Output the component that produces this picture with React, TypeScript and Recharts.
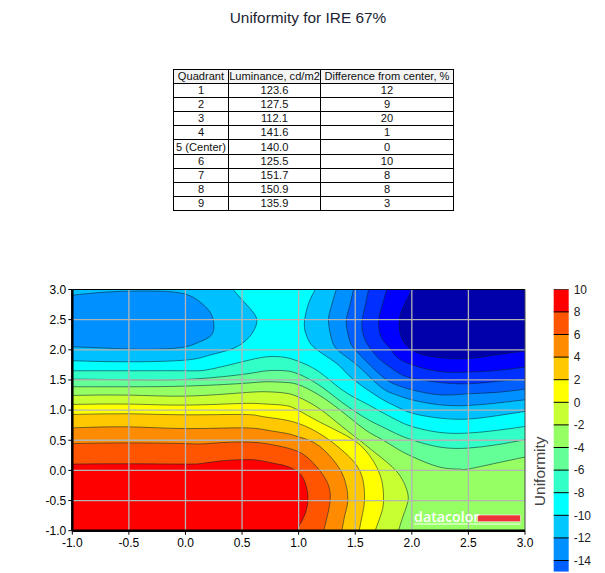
import { Area, AreaChart, Label, ReferenceArea, ReferenceLine, XAxis, YAxis } from 'recharts'

type Pt = [number, number]

const titleText = 'Uniformity for IRE 67%'
const tableHeaders = ['Quadrant', 'Luminance, cd/m2', 'Difference from center, %']
const quadrants = ['1', '2', '3', '4', '5 (Center)', '6', '7', '8', '9']
const luminance = ['123.6', '127.5', '112.1', '141.6', '140.0', '125.5', '151.7', '150.9', '135.9']
const differences = ['12', '9', '20', '1', '0', '10', '8', '8', '3']

const axisTicks = [-1, -0.5, 0, 0.5, 1, 1.5, 2, 2.5, 3]
const scaleTicks = [10, 8, 6, 4, 2, 0, -2, -4, -6, -8, -10, -12, -14]
const scaleColors = ['#ff0000', '#ff5500', '#ff8c00', '#ffc800', '#ffff00', '#c8ff32', '#96ff64', '#64ff96', '#32ffc8', '#00ffff', '#00c8ff', '#0090ff', '#0060ff']

// contour outlines, [x, y]
const warmM2: Pt[] = [[-1, 1.243], [-0.5, 1.249], [0, 1.232], [0.5, 1.287], [0.715, 1.304], [0.882, 1.282], [1, 1.215], [1.176, 1.033], [1.382, 0.73], [1.559, 0.47], [1.691, 0.27], [1.868, -0.022], [1.956, -0.326], [1.965, -0.519], [1.926, -0.74], [1.882, -1]]
const warm0: Pt[] = [[-1, 1.094], [-0.5, 1.1], [0, 1.083], [0.5, 1.11], [0.715, 1.1], [0.882, 1.077], [1, 0.994], [1.176, 0.812], [1.412, 0.586], [1.588, 0.337], [1.72, -0.077], [1.75, -0.464], [1.735, -0.685], [1.676, -1]]
const warm2: Pt[] = [[-1, 0.928], [-0.5, 0.939], [0, 0.922], [0.5, 0.928], [0.66, 0.9], [0.8, 0.861], [1, 0.778], [1.206, 0.586], [1.382, 0.337], [1.544, -0.022], [1.582, -0.464], [1.565, -0.713], [1.535, -1]]
const warm4: Pt[] = [[-1, 0.705], [-0.5, 0.722], [0, 0.694], [0.5, 0.706], [0.72, 0.667], [0.9, 0.611], [1, 0.556], [1.147, 0.45], [1.294, 0.2], [1.397, -0.105], [1.435, -0.464], [1.412, -0.713], [1.382, -1]]
const warm6: Pt[] = [[-1, 0.444], [-0.5, 0.456], [0, 0.444], [0.156, 0.44], [0.33, 0.461], [0.5, 0.472], [0.66, 0.456], [0.81, 0.41], [1, 0.309], [1.132, 0.116], [1.235, -0.133], [1.279, -0.381], [1.265, -0.657], [1.221, -1]]
const warm8: Pt[] = [[-1, 0.105], [-0.5, 0.11], [0, 0.105], [0.16, 0.12], [0.33, 0.16], [0.5, 0.178], [0.65, 0.166], [0.8, 0.11], [0.882, 0.077], [1, -0.033], [1.059, -0.215], [1.082, -0.436], [1.059, -0.713], [1, -0.934], [0.994, -1]]

const cool4: Pt[] = [[-1, 1.387], [-0.5, 1.387], [0, 1.398], [0.5, 1.442], [0.72, 1.47], [0.882, 1.459], [1, 1.42], [1.176, 1.254], [1.382, 0.978], [1.588, 0.674], [1.72, 0.53], [1.861, 0.37], [2, 0.232], [2.246, 0.055], [2.423, 0.022], [2.497, 0.022], [2.749, 0.122], [3, 0.221]]
const cool6: Pt[] = [[-1, 1.514], [-0.5, 1.503], [0, 1.508], [0.5, 1.591], [0.72, 1.652], [0.882, 1.652], [1, 1.597], [1.176, 1.42], [1.382, 1.13], [1.588, 0.87], [1.72, 0.74], [1.861, 0.61], [2, 0.508], [2.246, 0.387], [2.497, 0.37], [2.749, 0.425], [3, 0.508]]
const cool8: Pt[] = [[-1, 1.652], [-0.5, 1.652], [0, 1.652], [0.21, 1.674], [0.5, 1.801], [0.72, 1.884], [0.882, 1.873], [1, 1.807], [1.176, 1.641], [1.382, 1.337], [1.588, 1.116], [1.72, 0.98], [1.861, 0.84], [2, 0.729], [2.246, 0.63], [2.497, 0.619], [2.749, 0.663], [3, 0.729]]
const cool10Left: Pt[] = [[-1, 1.818], [-0.5, 1.801], [0, 1.829], [0.215, 1.912], [0.42, 2.022], [0.565, 2.215], [0.63, 2.448], [0.595, 2.63], [0.49, 2.851], [0.42, 3]]
const cool12Left: Pt[] = [[-1, 2.906], [-0.756, 2.95], [-0.506, 2.972], [-0.226, 2.972], [0, 2.923], [0.126, 2.796], [0.215, 2.63], [0.25, 2.436], [0.229, 2.243], [0.126, 2.133], [0, 2.05], [-0.226, 2.011], [-0.506, 2.011], [-0.756, 2.033], [-1, 2.05]]
const cool10Right: Pt[] = [[1.147, 3], [1.088, 2.768], [1.05, 2.436], [1.074, 2.215], [1.147, 2.022], [1.338, 1.77], [1.47, 1.53], [1.72, 1.2], [1.861, 1.061], [2, 0.95], [2.246, 0.867], [2.497, 0.851], [2.749, 0.906], [3, 0.978]]
const cool12Right: Pt[] = [[1.332, 3], [1.279, 2.657], [1.265, 2.436], [1.294, 2.16], [1.36, 1.97], [1.53, 1.724], [1.72, 1.39], [1.861, 1.254], [2, 1.171], [2.246, 1.088], [2.497, 1.077], [2.749, 1.116], [3, 1.171]]
const cool14: Pt[] = [[1.485, 3], [1.441, 2.657], [1.42, 2.436], [1.45, 2.16], [1.515, 1.97], [1.72, 1.586], [1.861, 1.42], [2, 1.337], [2.246, 1.254], [2.497, 1.27], [2.749, 1.293], [3, 1.348]]
const cool16: Pt[] = [[1.618, 3], [1.579, 2.657], [1.559, 2.436], [1.588, 2.16], [1.676, 1.92], [1.72, 1.834], [1.861, 1.641], [2, 1.53], [2.246, 1.459], [2.497, 1.436], [2.749, 1.475], [3, 1.514]]
const cool18: Pt[] = [[1.779, 3], [1.726, 2.657], [1.706, 2.436], [1.735, 2.188], [1.809, 2.022], [1.861, 1.89], [2, 1.751], [2.246, 1.641], [2.497, 1.63], [2.749, 1.657], [3, 1.713]]
const cool20: Pt[] = [[2, 3], [1.912, 2.657], [1.888, 2.436], [1.912, 2.188], [2, 2], [2.1, 1.917], [2.25, 1.87], [2.5, 1.855], [2.75, 1.917], [3, 1.98]]

const backdrop: Pt[] = [[-1, 3], [3, 3]]

// painted back to front
const layers: { pts: Pt[]; color: string; base: number; line?: boolean }[] = [
  { pts: backdrop, color: '#96ff64', base: -1, line: false },
  { pts: warmM2, color: '#c8ff32', base: -1 },
  { pts: warm0, color: '#ffff00', base: -1 },
  { pts: warm2, color: '#ffc800', base: -1 },
  { pts: warm4, color: '#ff8c00', base: -1 },
  { pts: warm6, color: '#ff5500', base: -1 },
  { pts: warm8, color: '#ff0000', base: -1 },
  { pts: cool4, color: '#64ff96', base: 3 },
  { pts: cool6, color: '#32ffc8', base: 3 },
  { pts: cool8, color: '#00ffff', base: 3 },
  { pts: cool10Left, color: '#00c0ff', base: 3 },
  { pts: cool12Left, color: '#0090ff', base: 3 },
  { pts: cool10Right, color: '#00c0ff', base: 3 },
  { pts: cool12Right, color: '#0090ff', base: 3 },
  { pts: cool14, color: '#0060ff', base: 3 },
  { pts: cool16, color: '#0030ff', base: 3 },
  { pts: cool18, color: '#0000ff', base: 3 },
  { pts: cool20, color: '#0000aa', base: 3 },
]

const toRows = (pts: Pt[]) => pts.map(([x, y]) => ({ x, y }))
const font = 'Arial, "Liberation Sans", sans-serif'

function UniformityTable() {
  const cell = { border: '1px solid #000', padding: 0, height: 13.1, lineHeight: '13px', textAlign: 'center' as const, whiteSpace: 'nowrap' as const, overflow: 'hidden' }
  return (
    <table
      style={{
        position: 'absolute',
        left: 173,
        top: 69,
        width: 280,
        borderCollapse: 'collapse',
        tableLayout: 'fixed',
        fontFamily: font,
        fontSize: 11.1,
        color: '#111',
      }}
    >
      <colgroup>
        <col style={{ width: 55 }} />
        <col style={{ width: 92 }} />
        <col style={{ width: 133 }} />
      </colgroup>
      <thead>
        <tr style={{ background: '#f4f4f4' }}>
          {tableHeaders.map((h) => (
            <th key={h} style={{ ...cell, fontWeight: 400 }}>{h}</th>
          ))}
        </tr>
      </thead>
      <tbody>
        {quadrants.map((q, i) => (
          <tr key={q}>
            <td style={cell}>{q}</td>
            <td style={cell}>{luminance[i]}</td>
            <td style={cell}>{differences[i]}</td>
          </tr>
        ))}
      </tbody>
    </table>
  )
}

function ContourChart() {
  return (
    <div style={{ position: 'absolute', left: 0, top: 270 }}>
      <AreaChart width={545} height={290} margin={{ top: 19.5, right: 20, bottom: 0, left: 0 }}>
        <XAxis
          dataKey="x"
          type="number"
          domain={[-1, 3]}
          ticks={axisTicks}
          interval={0}
          allowDataOverflow
          height={29.3}
          tickSize={4}
          tickMargin={4}
          tickLine={{ stroke: '#000' }}
          axisLine={{ stroke: '#000', strokeWidth: 2.5 }}
          tick={{ fontSize: 12, fill: '#000', fontFamily: font }}
          tickFormatter={(v: number) => v.toFixed(1)}
        />
        <YAxis
          dataKey="y"
          type="number"
          domain={[-1, 3]}
          ticks={axisTicks}
          interval={0}
          allowDataOverflow
          width={72.3}
          tickSize={4}
          tickLine={{ stroke: '#000' }}
          axisLine={{ stroke: '#000', strokeWidth: 2.5 }}
          tick={{ fontSize: 12, fill: '#000', fontFamily: font }}
          tickFormatter={(v: number) => v.toFixed(1)}
        />
        {layers.map((l, i) => (
          <Area
            key={i}
            data={toRows(l.pts)}
            dataKey="y"
            type="natural"
            baseValue={l.base}
            fill={l.color}
            fillOpacity={1}
            stroke={l.line === false ? 'none' : '#0a2030'}
            strokeOpacity={0.55}
            strokeWidth={1}
            dot={false}
            activeDot={false}
            isAnimationActive={false}
          />
        ))}
        {axisTicks.slice(1, -1).map((t) => (
          <ReferenceLine key={`v${t}`} x={t} stroke="#b4b4b4" strokeWidth={1.3} />
        ))}
        {axisTicks.slice(1, -1).map((t) => (
          <ReferenceLine key={`h${t}`} y={t} stroke="#b4b4b4" strokeWidth={1.3} />
        ))}
        <ReferenceLine y={3} stroke="#000" strokeWidth={1} />
        <ReferenceLine x={3} stroke="#444" strokeWidth={1} />
        <ReferenceArea x1={2.018} x2={2.961} y1={-0.897} y2={-0.881} fill="#ffffff" fillOpacity={1} strokeOpacity={0} />
        <ReferenceArea x1={2.58} x2={2.961} y1={-0.85} y2={-0.74} fill="#ee3338" fillOpacity={1} stroke="#ffffff" strokeOpacity={0.6} />
        <ReferenceArea x1={2.035} x2={2.583} y1={-0.87} y2={-0.67} fillOpacity={0} strokeOpacity={0}>
          <Label value="datacolor" position="center" fill="#ffffff" fontSize={14.2} fontWeight={600} fontFamily='"Open Sans", sans-serif' />
        </ReferenceArea>
      </AreaChart>
    </div>
  )
}

function ColorScale() {
  return (
    <div style={{ position: 'absolute', left: 530, top: 270 }}>
      <AreaChart width={75} height={303} margin={{ top: 19.3, right: 0, bottom: 1.2, left: 0 }}>
        <XAxis dataKey="x" type="number" domain={[0, 1]} hide />
        <YAxis
          yAxisId="title"
          width={23.7}
          domain={[-15, 10]}
          tick={false}
          axisLine={false}
          tickLine={false}
        >
          <Label value="Uniformity" angle={-90} position={{ x: 15, y: 182 }} textAnchor="middle" fontSize={15.5} fill="#444" fontFamily={font} />
        </YAxis>
        <YAxis
          yAxisId="scale"
          orientation="right"
          type="number"
          width={36.3}
          domain={[-15, 10]}
          ticks={scaleTicks}
          interval={0}
          allowDataOverflow
          axisLine={false}
          tickLine={false}
          tickSize={0}
          tickMargin={5}
          tick={{ fontSize: 12, fill: '#222', fontFamily: font, textAnchor: 'start' }}
        />
        {scaleTicks.map((t, i) => (
          <Area
            key={t}
            yAxisId="scale"
            data={[{ x: 0, y: t }, { x: 1, y: t }]}
            dataKey="y"
            type="linear"
            baseValue={Math.max(t - 2, -15)}
            fill={scaleColors[i]}
            fillOpacity={1}
            stroke="#000"
            strokeWidth={1}
            dot={false}
            activeDot={false}
            isAnimationActive={false}
          />
        ))}
      </AreaChart>
    </div>
  )
}

export default function App() {
  return (
    <div style={{ position: 'absolute', left: 0, top: 0, width: 605, height: 573, background: '#fff', overflow: 'hidden' }}>
      <div style={{ position: 'absolute', left: 0, top: 9, width: 616, textAlign: 'center', fontFamily: font, fontSize: 15.4, color: '#1c2433' }}>
        {titleText}
      </div>
      <UniformityTable />
      <ContourChart />
      <ColorScale />
    </div>
  )
}
